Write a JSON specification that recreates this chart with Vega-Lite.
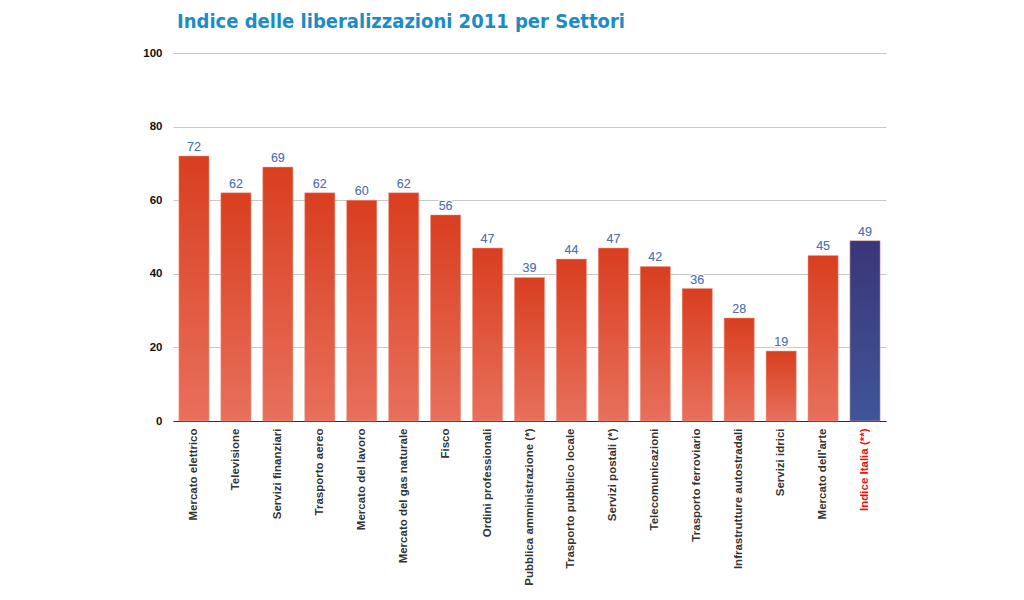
{
  "$schema": "https://vega.github.io/schema/vega-lite/v6.json",
  "autosize": {"type": "none"},
  "padding": {"left": 173, "top": 53, "right": 138, "bottom": 179},
  "width": 713,
  "height": 368,
  "background": "white",
  "title": {
    "text": "Indice delle liberalizzazioni 2011 per Settori",
    "anchor": "start",
    "frame": "group",
    "font": "'DejaVu Sans Condensed', 'Liberation Sans Narrow', Roboto, sans-serif",
    "fontSize": 20,
    "fontWeight": "bold",
    "color": "#1b8cc6",
    "dx": 4,
    "offset": 15
  },
  "data": {
    "values": [
      {"settore": "Mercato elettrico", "valore": 72},
      {"settore": "Televisione", "valore": 62},
      {"settore": "Servizi finanziari", "valore": 69},
      {"settore": "Trasporto aereo", "valore": 62},
      {"settore": "Mercato del lavoro", "valore": 60},
      {"settore": "Mercato del gas naturale", "valore": 62},
      {"settore": "Fisco", "valore": 56},
      {"settore": "Ordini professionali", "valore": 47},
      {"settore": "Pubblica amministrazione (*)", "valore": 39},
      {"settore": "Trasporto pubblico locale", "valore": 44},
      {"settore": "Servizi postali (*)", "valore": 47},
      {"settore": "Telecomunicazioni", "valore": 42},
      {"settore": "Trasporto ferroviario", "valore": 36},
      {"settore": "Infrastrutture autostradali", "valore": 28},
      {"settore": "Servizi idrici", "valore": 19},
      {"settore": "Mercato dell'arte", "valore": 45},
      {"settore": "Indice Italia (**)", "valore": 49}
    ]
  },
  "encoding": {
    "x": {
      "field": "settore",
      "type": "nominal",
      "sort": null,
      "scale": {"paddingInner": 0.28, "paddingOuter": 0.14},
      "axis": {
        "title": null,
        "labelAngle": -90,
        "labelAlign": "right",
        "labelBaseline": "middle",
        "labelFont": "Liberation Sans",
        "labelFontWeight": "bold",
        "labelFontSize": 11.5,
        "labelColor": {"condition": {"test": "datum.value === 'Indice Italia (**)'", "value": "#e8120c"}, "value": "#333333"},
        "labelPadding": 7,
        "ticks": false,
        "domainColor": "#3a2a22",
        "domainWidth": 1.2,
        "labelLimit": 300
      }
    },
    "y": {
      "field": "valore",
      "type": "quantitative",
      "scale": {"domain": [0, 100]},
      "axis": {
        "title": null,
        "values": [0, 20, 40, 60, 80, 100],
        "domain": false,
        "ticks": false,
        "labelFont": "Liberation Sans",
        "labelFontWeight": "bold",
        "labelFontSize": 11.5,
        "labelColor": "#111111",
        "labelPadding": 11,
        "gridColor": "#c8c8c8",
        "gridWidth": 1
      }
    }
  },
  "layer": [
    {
      "mark": {"type": "bar", "stroke": "#f0a090", "strokeWidth": 0.5},
      "encoding": {
        "fill": {
          "condition": {
            "test": "datum.settore === 'Indice Italia (**)'",
            "value": {"gradient": "linear", "x1": 0, "y1": 0, "x2": 0, "y2": 1, "stops": [{"offset": 0, "color": "#3a3678"}, {"offset": 1, "color": "#3f559a"}]}
          },
          "value": {"gradient": "linear", "x1": 0, "y1": 0, "x2": 0, "y2": 1, "stops": [{"offset": 0, "color": "#d93e1f"}, {"offset": 1, "color": "#e8705c"}]}
        }
      }
    },
    {
      "mark": {"type": "text", "dy": -9, "font": "Liberation Sans", "fontSize": 12.5, "stroke": "#ffffff", "strokeWidth": 3, "strokeOpacity": 0.8},
      "encoding": {"text": {"field": "valore", "type": "quantitative"}}
    },
    {
      "mark": {"type": "text", "dy": -9, "font": "Liberation Sans", "fontSize": 12.5, "fill": "#4a72b8"},
      "encoding": {"text": {"field": "valore", "type": "quantitative"}}
    }
  ],
  "config": {"view": {"stroke": null}}
}
